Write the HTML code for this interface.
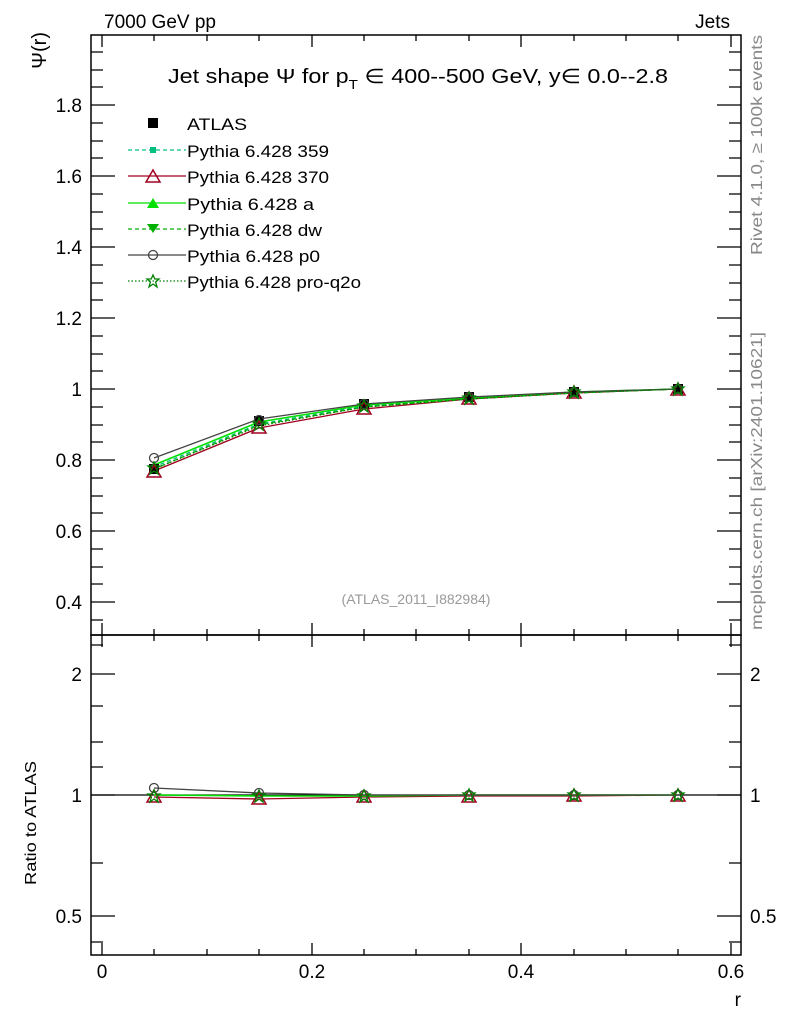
<!DOCTYPE html>
<html><head><meta charset="utf-8"><style>body{margin:0;background:#fff}svg{display:block}text{font-family:"Liberation Sans",sans-serif}</style></head><body>
<svg width="786" height="1024" viewBox="0 0 786 1024" xmlns="http://www.w3.org/2000/svg">
<defs>
<g id="sq"><rect x="-5" y="-5" width="10" height="10" fill="#000"/></g>
<g id="sq2"><rect x="-3" y="-3" width="6" height="6" fill="#00c080"/></g>
<g id="tri"><polygon points="0,-7 7,5 -7,5" fill="none" stroke="#a00020" stroke-width="1.5"/></g>
<g id="trg"><polygon points="0,-6 6,4 -6,4" fill="#00e000"/></g>
<g id="trd"><polygon points="0,5 6,-4 -6,-4" fill="#00b000"/></g>
<g id="circ"><circle r="4.5" fill="none" stroke="#444" stroke-width="1.3"/></g>
<g id="star"><polygon points="0,-6 1.8,-2 6,-2 2.6,1 4,6 0,3 -4,6 -2.6,1 -6,-2 -1.8,-2" fill="none" stroke="#008000" stroke-width="1.3"/></g>
</defs>
<text x="104" y="28" font-size="19">7000 GeV pp</text>
<text x="730" y="28" font-size="19" text-anchor="end">Jets</text>
<text transform="translate(762,255) rotate(-90)" font-size="16" fill="#888" textLength="220" lengthAdjust="spacingAndGlyphs">Rivet 4.1.0, ≥ 100k events</text>
<text transform="translate(762,630) rotate(-90)" font-size="16" fill="#888" textLength="298" lengthAdjust="spacingAndGlyphs">mcplots.cern.ch [arXiv:2401.10621]</text>
<rect x="91" y="35" width="650" height="600" fill="none" stroke="#000" stroke-width="1.5"/>
<rect x="91" y="635" width="650" height="320" fill="none" stroke="#000" stroke-width="1.5"/>
<text x="168" y="83" font-size="20" textLength="500" lengthAdjust="spacingAndGlyphs">Jet shape Ψ for p<tspan font-size="13" dy="6">T</tspan><tspan dy="-6"> ∈ 400--500 GeV, y∈ 0.0--2.8</tspan></text>
<text transform="translate(46,32) rotate(-90)" font-size="20" text-anchor="end">Ψ(r)</text>
<text x="416" y="604" font-size="14" fill="#999" text-anchor="middle">(ATLAS_2011_I882984)</text>
<g stroke="#000" stroke-width="1.3">
<path d="M91,105h24M91,176h24M91,247h24M91,318h24M91,389h24M91,460h24M91,531h24M91,602h24M741,105h-24M741,176h-24M741,247h-24M741,318h-24M741,389h-24M741,460h-24M741,531h-24M741,602h-24"/>
<path d="M91,52h12M91,70h12M91,87h12M91,123h12M91,141h12M91,158h12M91,194h12M91,212h12M91,229h12M91,265h12M91,283h12M91,300h12M91,336h12M91,354h12M91,371h12M91,407h12M91,425h12M91,442h12M91,478h12M91,496h12M91,513h12M91,549h12M91,567h12M91,584h12M91,620h12
M741,52h-12M741,70h-12M741,87h-12M741,123h-12M741,141h-12M741,158h-12M741,194h-12M741,212h-12M741,229h-12M741,265h-12M741,283h-12M741,300h-12M741,336h-12M741,354h-12M741,371h-12M741,407h-12M741,425h-12M741,442h-12M741,478h-12M741,496h-12M741,513h-12M741,549h-12M741,567h-12M741,584h-12M741,620h-12"/>
<path d="M102,35v12M312,35v12M521,35v12M731,35v12M102,635v-12M312,635v-12M521,635v-12M731,635v-12M102,635v12M312,635v12M521,635v12M731,635v12M102,955v-12M312,955v-12M521,955v-12M731,955v-12"/>
<path d="M154,35v6M207,35v6M259,35v6M364,35v6M416,35v6M469,35v6M574,35v6M626,35v6M678,35v6M154,635v-6M207,635v-6M259,635v-6M364,635v-6M416,635v-6M469,635v-6M574,635v-6M626,635v-6M678,635v-6M154,635v6M207,635v6M259,635v6M364,635v6M416,635v6M469,635v6M574,635v6M626,635v6M678,635v6M154,955v-6M207,955v-6M259,955v-6M364,955v-6M416,955v-6M469,955v-6M574,955v-6M626,955v-6M678,955v-6"/>
<path d="M91,674h24M91,795h24M91,916h24M741,674h-24M741,795h-24M741,916h-24"/>
<path d="M91,645h12M91,706h12M91,742h12M91,767h12M91,863h12M91,942h12M741,645h-12M741,706h-12M741,742h-12M741,767h-12M741,863h-12M741,942h-12"/>
</g>
<g font-size="19" text-anchor="end">
<text x="82" y="112">1.8</text><text x="82" y="183">1.6</text><text x="82" y="254">1.4</text><text x="82" y="325">1.2</text><text x="82" y="396">1</text><text x="82" y="467">0.8</text><text x="82" y="538">0.6</text><text x="82" y="609">0.4</text>
<text x="82" y="681">2</text><text x="82" y="802">1</text><text x="82" y="923">0.5</text>
</g>
<g font-size="19">
<text x="750" y="681">2</text><text x="750" y="802">1</text><text x="750" y="923">0.5</text>
</g>
<g font-size="19" text-anchor="middle">
<text x="102" y="978">0</text><text x="312" y="978">0.2</text><text x="521" y="978">0.4</text><text x="731" y="978">0.6</text>
</g>
<text x="741" y="1006" font-size="19" text-anchor="end">r</text>
<text transform="translate(36,885) rotate(-90)" font-size="16" textLength="124" lengthAdjust="spacingAndGlyphs">Ratio to ATLAS</text>
<!-- legend -->
<use href="#sq" x="153" y="123"/><text x="187" y="130" font-size="17" textLength="60" lengthAdjust="spacingAndGlyphs">ATLAS</text>
<path d="M128,150h58" stroke="#00c080" stroke-width="1.3" stroke-dasharray="4,3"/><use href="#sq2" x="153" y="150"/><text x="187" y="157" font-size="17" textLength="142" lengthAdjust="spacingAndGlyphs">Pythia 6.428 359</text>
<path d="M128,176h58" stroke="#a00020" stroke-width="1.3"/><use href="#tri" x="153" y="177"/><text x="187" y="183" font-size="17" textLength="142" lengthAdjust="spacingAndGlyphs">Pythia 6.428 370</text>
<path d="M128,203h58" stroke="#00e000" stroke-width="1.3"/><use href="#trg" x="153" y="204"/><text x="187" y="210" font-size="17" textLength="127" lengthAdjust="spacingAndGlyphs">Pythia 6.428 a</text>
<path d="M128,229h58" stroke="#00b000" stroke-width="1.3" stroke-dasharray="4,3"/><use href="#trd" x="153" y="228"/><text x="187" y="236" font-size="17" textLength="135" lengthAdjust="spacingAndGlyphs">Pythia 6.428 dw</text>
<path d="M128,255h58" stroke="#444" stroke-width="1.3"/><use href="#circ" x="153" y="255"/><text x="187" y="262" font-size="17" textLength="133" lengthAdjust="spacingAndGlyphs">Pythia 6.428 p0</text>
<path d="M128,281h58" stroke="#008000" stroke-width="1.3" stroke-dasharray="1.5,2"/><use href="#star" x="153" y="281"/><text x="187" y="288" font-size="17" textLength="174" lengthAdjust="spacingAndGlyphs">Pythia 6.428 pro-q2o</text>
<!-- main series -->
<polyline points="154,467 259,424 364,406 469,399 574,393 678,389" fill="none" stroke="#00c080" stroke-width="1.3" stroke-dasharray="4,3"/>
<polyline points="154,471 259,428 364,409 469,399 574,393 678,389" fill="none" stroke="#a00020" stroke-width="1.3"/>
<polyline points="154,465 259,422 364,405 469,398 574,392 678,389" fill="none" stroke="#00e000" stroke-width="1.6"/>
<polyline points="154,469 259,425 364,407 469,399 574,393 678,389" fill="none" stroke="#00b000" stroke-width="1.3" stroke-dasharray="4,3"/>
<polyline points="154,458 259,419 364,404 469,397 574,392 678,389" fill="none" stroke="#444" stroke-width="1.3"/>
<polyline points="154,469 259,426 364,407 469,399 574,393 678,389" fill="none" stroke="#008000" stroke-width="1.3" stroke-dasharray="1.5,2"/>
<g>
<use href="#sq" x="154" y="469"/><use href="#sq" x="259" y="421"/><use href="#sq" x="364" y="404"/><use href="#sq" x="469" y="397"/><use href="#sq" x="574" y="392"/><use href="#sq" x="678" y="389"/>
<use href="#tri" x="154" y="472"/><use href="#tri" x="259" y="428"/><use href="#tri" x="364" y="409"/><use href="#tri" x="469" y="399"/><use href="#tri" x="574" y="393"/><use href="#tri" x="678" y="390"/>
<use href="#circ" x="154" y="458"/><use href="#circ" x="259" y="420"/><use href="#circ" x="364" y="404"/><use href="#circ" x="469" y="397"/><use href="#circ" x="574" y="392"/><use href="#circ" x="678" y="389"/>
<use href="#star" x="154" y="468"/><use href="#star" x="259" y="424"/><use href="#star" x="364" y="406"/><use href="#star" x="469" y="398"/><use href="#star" x="574" y="392"/><use href="#star" x="678" y="389"/>
</g>
<!-- ratio -->
<path d="M91,795H741" stroke="#000" stroke-width="1.3"/>
<polyline points="154,797 259,799 364,797 469,796 574,796 678,795" fill="none" stroke="#a00020" stroke-width="1.3"/>
<polyline points="154,795 259,796 364,796 469,795 574,795 678,795" fill="none" stroke="#00e000" stroke-width="1.6"/>
<polyline points="154,788 259,793 364,795 469,795 574,795 678,795" fill="none" stroke="#444" stroke-width="1.3"/>
<use href="#tri" x="154" y="797"/><use href="#tri" x="259" y="799"/><use href="#tri" x="364" y="797"/><use href="#tri" x="469" y="797"/><use href="#tri" x="574" y="796"/><use href="#tri" x="678" y="796"/>
<use href="#circ" x="154" y="788"/><use href="#circ" x="259" y="793"/><use href="#circ" x="364" y="795"/><use href="#circ" x="469" y="795"/><use href="#circ" x="574" y="795"/><use href="#circ" x="678" y="795"/>
<use href="#star" x="154" y="796"/><use href="#star" x="259" y="796"/><use href="#star" x="364" y="796"/><use href="#star" x="469" y="795"/><use href="#star" x="574" y="795"/><use href="#star" x="678" y="795"/>
</svg>
</body></html>
